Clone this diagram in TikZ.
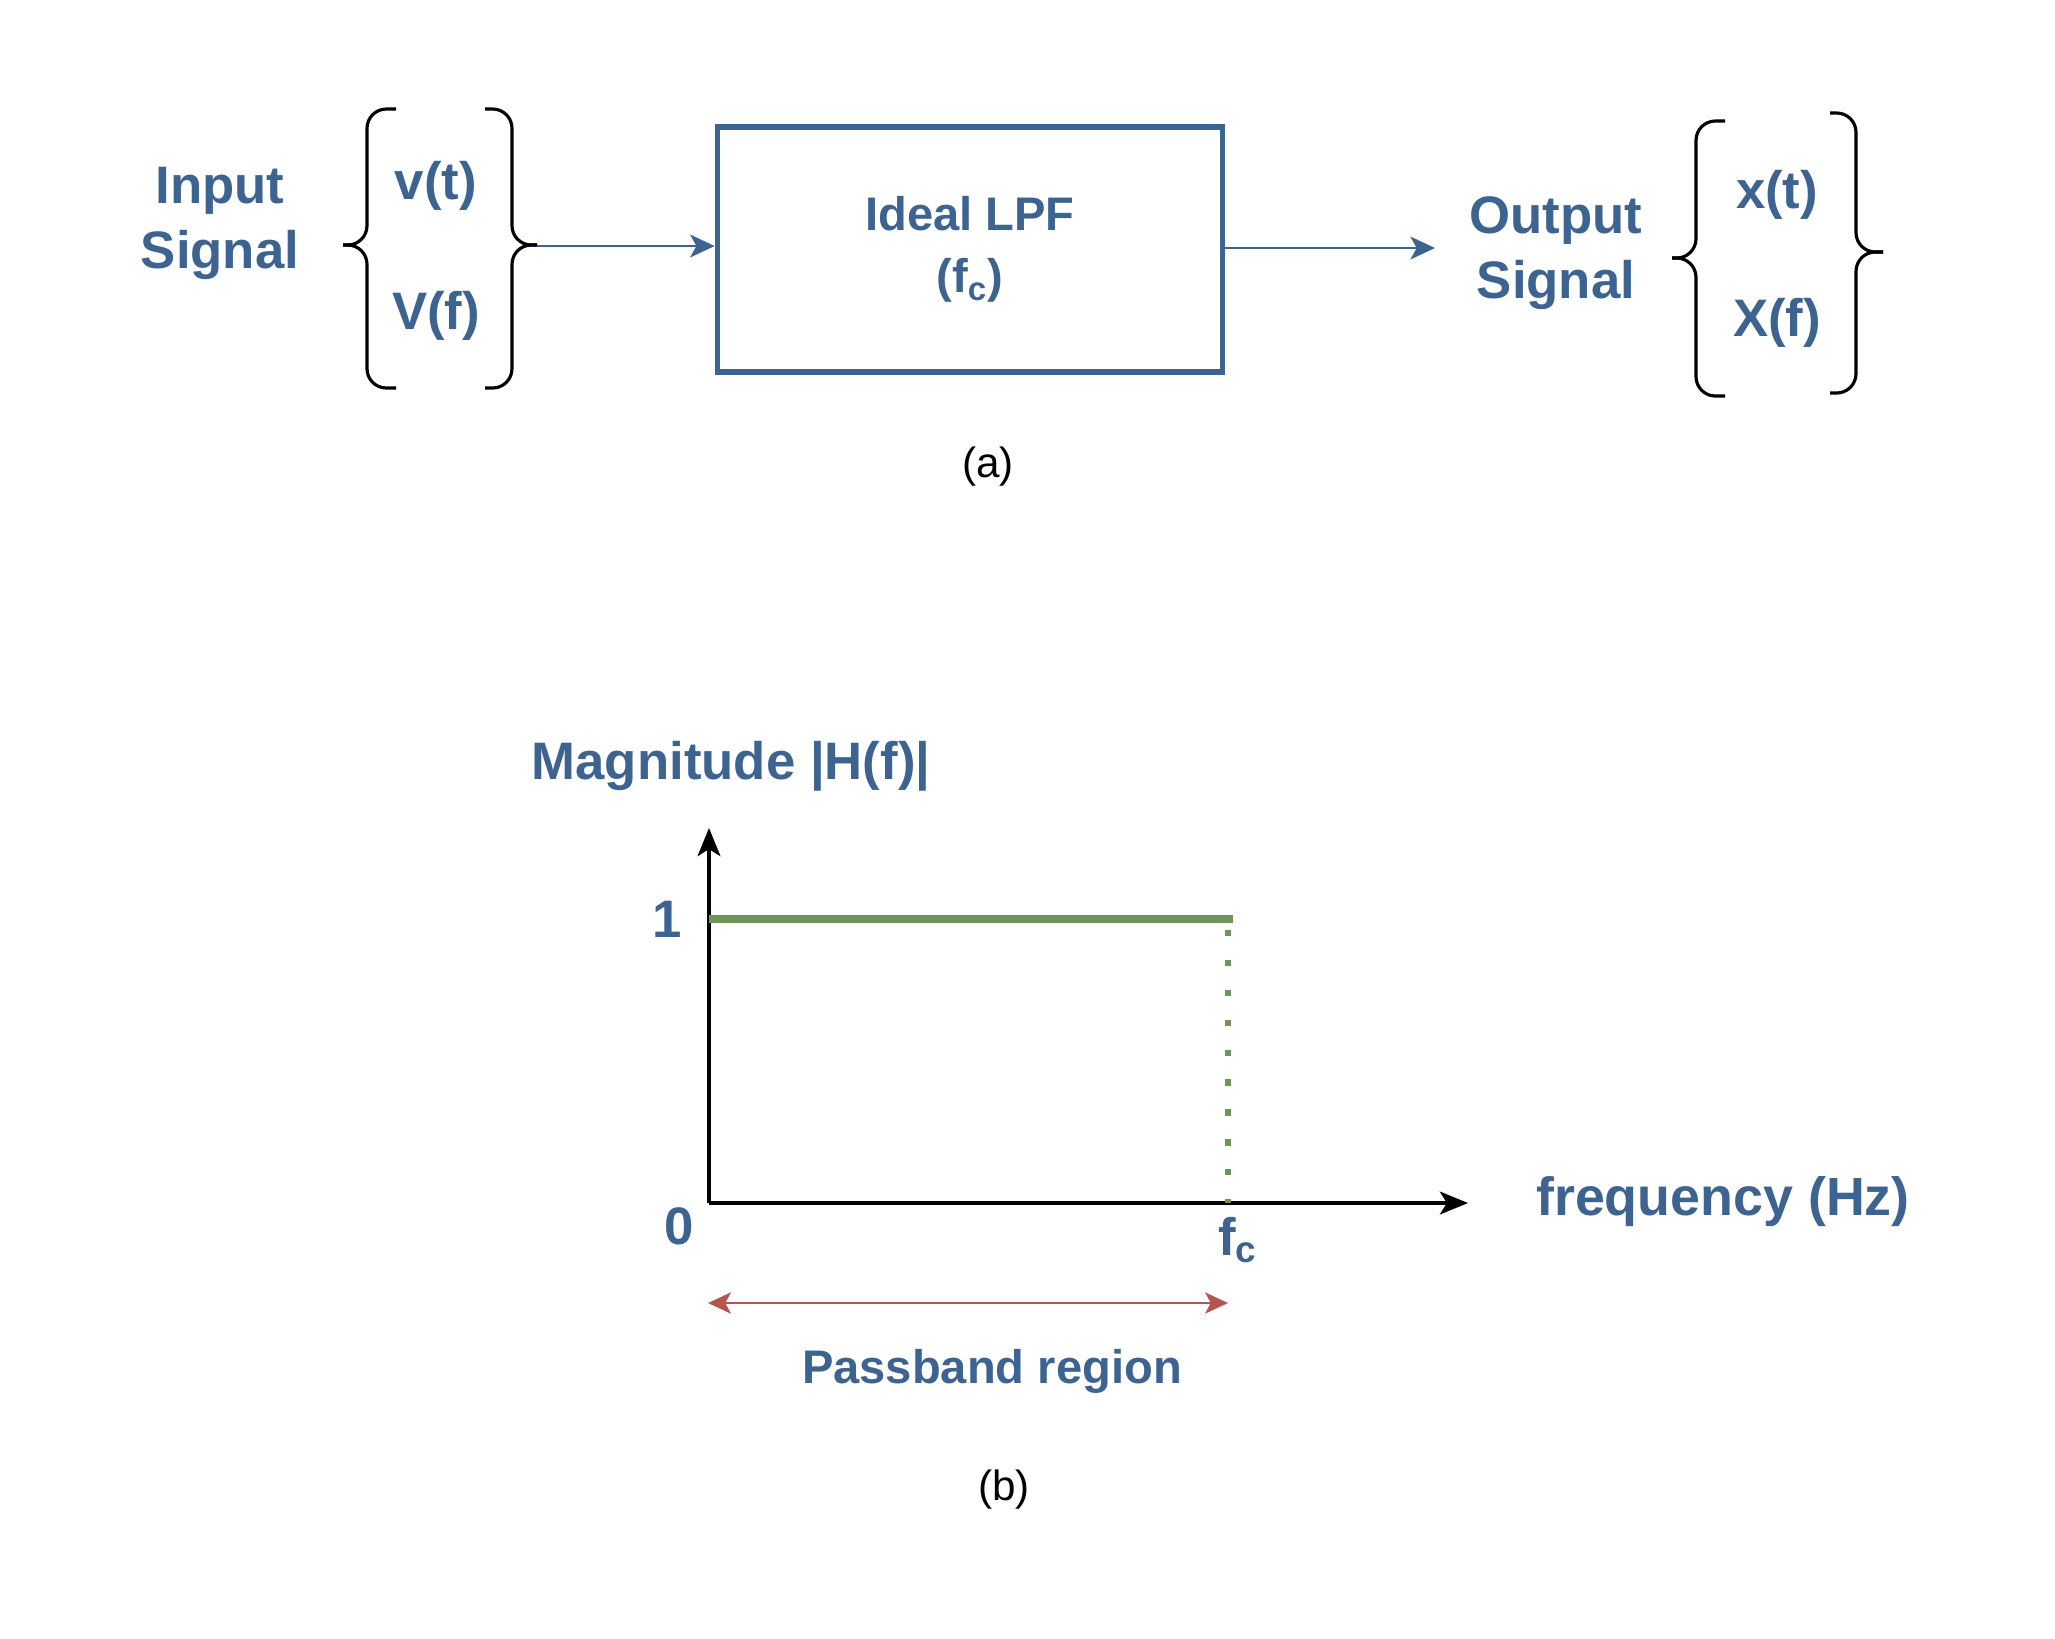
\documentclass[tikz,border=0pt]{standalone}
\usepackage{fontspec}
\setmainfont{Liberation Sans}
\usetikzlibrary{arrows.meta, positioning}
\definecolor{sigblue}{HTML}{3D6491}
\definecolor{passgreen}{HTML}{6D9656}
\definecolor{bandred}{HTML}{B85450}
\tikzstyle{sigtext} = [text=sigblue, font=\bfseries\fontsize{15}{18.5}\selectfont, align=center, inner sep=0pt]
\tikzstyle{filter} = [rectangle, draw=sigblue, line width=1.5pt, minimum width=5.05cm, minimum height=2.45cm, text=sigblue, font=\bfseries\fontsize{13.4}{17.6}\selectfont, align=center]
\tikzstyle{caption} = [font=\fontsize{12}{14}\selectfont, inner sep=0pt]
\tikzstyle{curly} = [line width=0.9pt, rounded corners=5.5pt]
\tikzstyle{arrow} = [sigblue, line width=0.7pt, -{Stealth[length=7pt, width=6.5pt, inset=1.8pt]}]
\tikzstyle{axisline} = [line width=0.9pt, -{Stealth[length=8pt, width=6.5pt, inset=2pt]}]
\tikzstyle{band} = [bandred, line width=0.8pt, {Stealth[length=6.5pt, width=6pt, inset=1.6pt]}-{Stealth[length=6.5pt, width=6pt, inset=1.6pt]}]

\begin{document}
\begin{tikzpicture}[x=0.01cm, y=-0.01cm]
\useasboundingbox (0,0) rectangle (2055,1638);

% (a) block diagram
\node (insig) [sigtext] at (220,223) {Input\\Signal};
\node (vt) [sigtext] at (436,186) {v(t)};
\node (vf) [sigtext] at (436,316) {V(f)};

\node (lpf) [filter] at (970,249.5) {Ideal LPF\\(f\textsubscript{c})};

\node (outsig) [sigtext] at (1556,253) {Output\\Signal};
\node (xt) [sigtext] at (1777,195) {x(t)};
\node (xf) [sigtext] at (1777,323) {X(f)};

% braces: tip, vertical, end, top, middle, bottom
\foreach \tip/\vert/\e/\top/\mid/\bot in {343/367/396/109/245/388, 537/512/485/109/245/388, 1672/1696/1725/121/258/396, 1883/1856/1830/113/252/393}
{
  \draw [curly] (\e,\top) -- (\vert,\top) -- (\vert,\mid) -- (\tip,\mid);
  \draw [curly] (\tip,\mid) -- (\vert,\mid) -- (\vert,\bot) -- (\e,\bot);
}

\coordinate (intip) at (537,246);
\coordinate (outend) at (1435,248);
\draw [arrow] (intip) -- (intip -| lpf.west);
\draw [arrow] (lpf.east |- outend) -- (outend);

\node (capa) [caption] at (988,467) {(a)};

% (b) magnitude response
\node (maglabel) [sigtext] at (731,766) {Magnitude |H(f)|};

\coordinate (origin) at (709,1203);
\coordinate (ytop) at (709,828);
\coordinate (xend) at (1468,1203);
\coordinate (hstart) at (709,919);
\coordinate (hend) at (1233,919);
\coordinate (cuttop) at (1228,930);
\coordinate (cutbase) at (1228,1203);
\coordinate (bandl) at (708,1303);
\coordinate (bandr) at (1228,1303);

\draw [axisline] (origin) -- (ytop);
\draw [axisline] (origin) -- (xend);
\draw [passgreen, line width=2.4pt] (hstart) -- (hend);
\draw [passgreen, line width=1.8pt, dash pattern=on 1.8pt off 6.7pt] (cuttop) -- (cutbase);

\node (one) [sigtext] at (667,919) {1};
\node (zero) [sigtext] at (679,1226) {0};
\node (fc) [sigtext] at (1238,1240) {f\textsubscript{c}};
\node (freq) [sigtext, font=\bfseries\fontsize{15.3}{18.5}\selectfont] at (1723,1202) {frequency (Hz)};

\draw [band] (bandl) -- (bandr);
\node (pass) [sigtext, font=\bfseries\fontsize{13.4}{16}\selectfont] at (992,1371) {Passband region};

\node (capb) [caption] at (1004,1490) {(b)};
\end{tikzpicture}
\end{document}
